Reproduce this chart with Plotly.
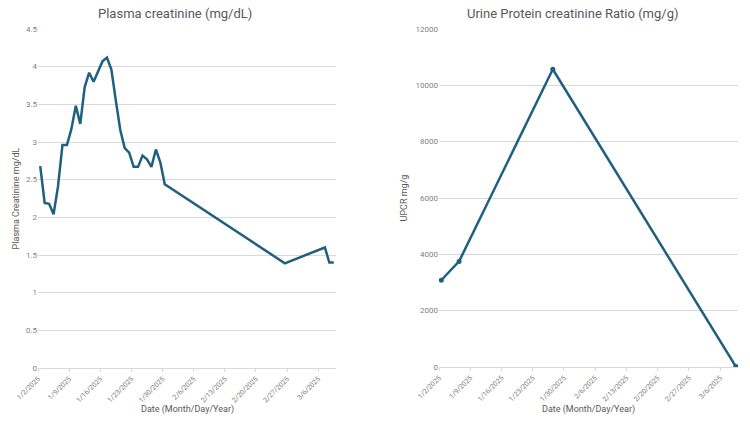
import pandas as pd
import plotly.graph_objects as go

# ---- Data ----
pcr_dates = ["2025-01-02", "2025-01-03", "2025-01-04", "2025-01-05", "2025-01-06",
             "2025-01-07", "2025-01-08", "2025-01-09", "2025-01-10", "2025-01-11",
             "2025-01-12", "2025-01-13", "2025-01-14", "2025-01-15", "2025-01-16",
             "2025-01-17", "2025-01-18", "2025-01-19", "2025-01-20", "2025-01-21",
             "2025-01-22", "2025-01-23", "2025-01-24", "2025-01-25", "2025-01-26",
             "2025-01-27", "2025-01-28", "2025-01-29", "2025-01-30", "2025-02-26",
             "2025-03-07", "2025-03-08", "2025-03-09"]
creatinine = [2.68, 2.19, 2.18, 2.04, 2.41, 2.96, 2.96, 3.17, 3.48, 3.24,
              3.73, 3.92, 3.80, 3.93, 4.07, 4.12, 3.96, 3.55, 3.16, 2.92,
              2.86, 2.67, 2.67, 2.82, 2.77, 2.67, 2.90, 2.73, 2.44, 1.39,
              1.60, 1.40, 1.40]

upcr_dates = ["2025-01-02", "2025-01-06", "2025-01-27", "2025-03-09"]
upcr = [3080, 3750, 10570, 20]

tick_dates = ["2025-01-02", "2025-01-09", "2025-01-16", "2025-01-23", "2025-01-30",
              "2025-02-06", "2025-02-13", "2025-02-20", "2025-02-27", "2025-03-06"]
tick_labels = ["1/2/2025", "1/9/2025", "1/16/2025", "1/23/2025", "1/30/2025",
               "2/6/2025", "2/13/2025", "2/20/2025", "2/27/2025", "3/6/2025"]

left_title = "Plasma creatinine (mg/dL)"
right_title = "Urine Protein creatinine Ratio (mg/g)"
left_ytitle = "Plasma Creatinine mg/dL"
right_ytitle = "UPCR mg/g"
xtitle = "Date (Month/Day/Year)"

# ---- Styling ----
LINE = "#1f6080"
GRID = "#d9d9d9"
TXT = "#595959"
TICK = "#7f7f7f"
FONT = "Roboto"

# points sit in the middle of their date slot (Excel "between tick marks")
half_day = pd.Timedelta(hours=12)
x_left = pd.to_datetime(pcr_dates) + half_day
x_right = pd.to_datetime(upcr_dates) + half_day

fig = go.Figure()
fig.add_trace(go.Scatter(x=x_left, y=creatinine, mode="lines",
                         line=dict(color=LINE, width=2.5), xaxis="x", yaxis="y",
                         showlegend=False))
fig.add_trace(go.Scatter(x=x_right, y=upcr, mode="lines+markers",
                         line=dict(color=LINE, width=2.5),
                         marker=dict(color=LINE, size=5),
                         xaxis="x2", yaxis="y2", showlegend=False))

W, H = 750, 422

def xd(a, b):
    return [a / W, b / W]

def yd(top, bottom):
    return [(H - bottom) / H, (H - top) / H]

xcommon = dict(type="date", range=["2025-01-02", "2025-03-10"], automargin=False,
               tickmode="array", tickvals=tick_dates, ticktext=tick_labels,
               tickangle=-45, tickfont=dict(size=7, color=TICK, family=FONT),
               showgrid=False, showline=True, linecolor=GRID, linewidth=1,
               ticks="outside", ticklen=3, tickcolor=GRID, zeroline=False)
ycommon = dict(showgrid=True, gridcolor=GRID, gridwidth=1, zeroline=False,
               automargin=False,
               showline=False, ticks="", tickfont=dict(size=8, color=TICK, family=FONT))

def ann(text, x, y, size, angle=0):
    return dict(text=text, x=x / W, y=1 - y / H, xref="paper", yref="paper",
                showarrow=False, xanchor="center", yanchor="middle", textangle=angle,
                font=dict(size=size, color=TXT, family=FONT))

fig.update_layout(
    width=W, height=H,
    margin=dict(l=0, r=0, t=0, b=0),
    paper_bgcolor="white", plot_bgcolor="white",
    font=dict(family=FONT, color=TXT),
    xaxis=dict(domain=xd(38, 336), anchor="y", **xcommon),
    yaxis=dict(domain=yd(29, 368), anchor="x", range=[0, 4.5], dtick=0.5,
               title=dict(text=left_ytitle, font=dict(size=9, color=TXT, family=FONT),
                          standoff=4), **ycommon),
    xaxis2=dict(domain=xd(439, 738), anchor="y2", **xcommon),
    yaxis2=dict(domain=yd(29, 367), anchor="x2", range=[0, 12000], dtick=2000,
                tickformat="d",
                title=dict(text=right_ytitle, font=dict(size=9, color=TXT, family=FONT),
                           standoff=6), **ycommon),
    annotations=[
        ann(left_title, 175, 13, 13),
        ann(right_title, 572, 13, 13),
        ann(xtitle, 187, 409, 9),
        ann(xtitle, 588, 409, 9),
    ],
)

fig.write_html("out.html")
